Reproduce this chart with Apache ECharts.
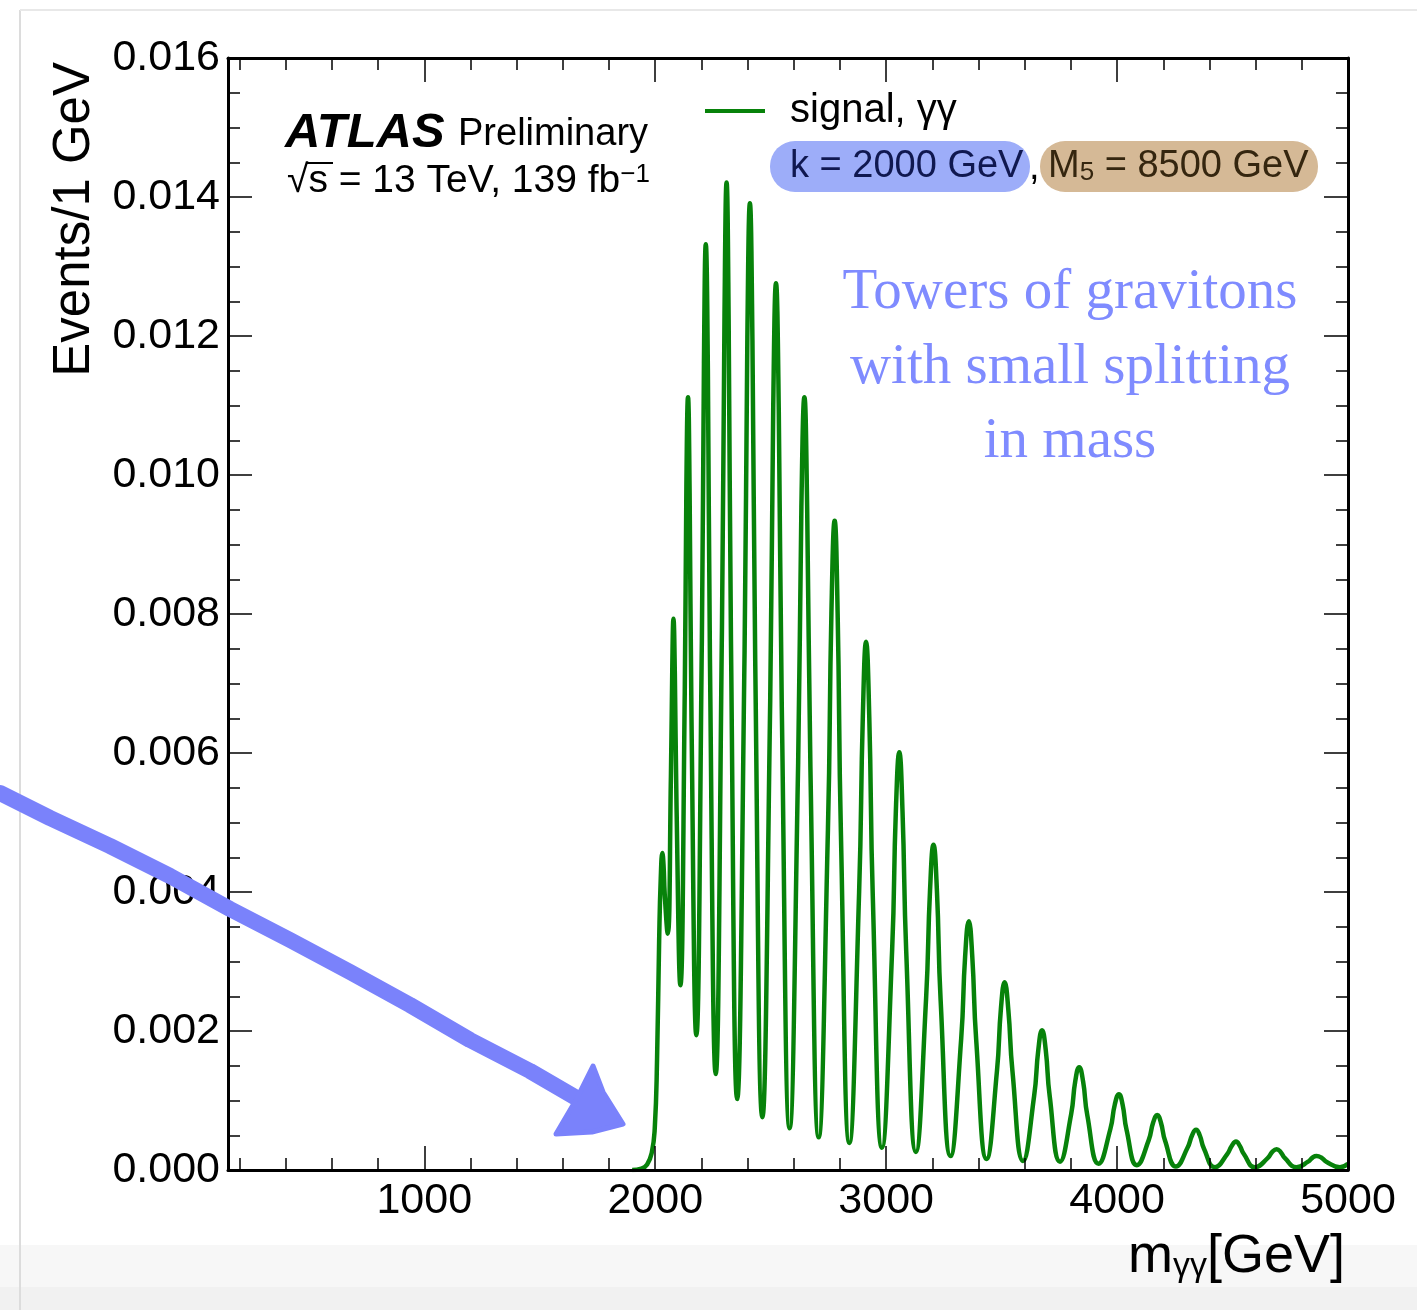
<!DOCTYPE html>
<html><head><meta charset="utf-8">
<script src="https://cdn.jsdelivr.net/npm/echarts@6/dist/echarts.min.js"></script>
<style>html,body{margin:0;padding:0;background:#fff}#c{width:1417px;height:1310px}</style>
</head><body><div id="c"></div>
<script>
// m_gammagamma [GeV] (troughs, flanks, peaks)
const massGeV = [1900,1940,1965,1985,1998,2008,2017,2024,2031,2036,2041,2054,
2068,2074,2079,2085,2092,2109,2128,2135,2142,2149,2157,2178,
2202,2211,2219,2228,2237,2262,2289,2300,2309,2318,2328,2355,
2387,2399,2410,2421,2433,2464,2498,2511,2523,2535,2548,2582,
2619,2633,2646,2658,2672,2708,2748,2763,2777,2790,2804,2841,
2883,2899,2913,2927,2942,2982,3026,3042,3057,3071,3087,3129,
3173,3190,3205,3220,3236,3279,3325,3342,3358,3373,3390,3435,
3480,3497,3513,3529,3547,3593,3641,3659,3675,3691,3708,3753,
3801,3819,3836,3853,3871,3920,3971,3990,4008,4024,4041,4086,
4137,4156,4174,4190,4208,4255,4305,4325,4342,4358,4376,4424,
4477,4497,4515,4531,4549,4597,4652,4672,4691,4708,4727,4777,
4827,4847,4864,4884,4906,4965,5000];
// Events / 1 GeV at those masses
const eventsPerGeV = [0,0.00002,0.00008,0.00025,0.0006,0.0016,0.0033,0.0042,0.00456,0.00439,0.00398,0.0034,
0.00567,0.00725,0.00793,0.00714,0.0053,0.00266,0.00689,0.00985,0.01112,0.00974,0.00653,0.00194,
0.00763,0.01161,0.01332,0.01153,0.00735,0.00138,0.0078,0.01229,0.01421,0.01223,0.00762,0.00102,
0.00747,0.01198,0.01391,0.01194,0.00734,0.00076,0.00676,0.01096,0.01276,0.01094,0.00668,0.0006,
0.00586,0.00954,0.01112,0.00952,0.0058,0.00047,0.00491,0.00801,0.00934,0.008,0.00487,0.00039,
0.004,0.00652,0.0076,0.00651,0.00396,0.00032,0.00317,0.00516,0.00601,0.00515,0.00314,0.00026,
0.00247,0.00402,0.00468,0.00401,0.00244,0.0002,0.00189,0.00307,0.00358,0.00307,0.00187,0.00016,
0.00143,0.00232,0.0027,0.00231,0.00142,0.00013,0.00107,0.00173,0.00201,0.00173,0.00107,0.00012,
0.0008,0.00128,0.00148,0.00127,0.00079,0.00009,0.00059,0.00094,0.00109,0.00094,0.00058,0.00007,
0.00043,0.00068,0.00079,0.00068,0.00042,0.00005,0.00032,0.0005,0.00058,0.0005,0.00031,0.00004,
0.00023,0.00035,0.00041,0.00035,0.00023,0.00004,0.00017,0.00026,0.0003,0.00026,0.00017,0.00004,
0.00012,0.00018,0.0002,0.00018,0.00012,0.00004,0.00009];
const xMajorTicks = [1000,2000,3000,4000,5000];
const xMinorTicks = [200,400,600,800,1200,1400,1600,1800,2200,2400,2600,2800,3200,3400,3600,3800,4200,4400,4600,4800];
const xRange = [150, 5000];
const yRange = [0, 0.016];
const yStep = 0.002;
const seriesName = 'signal, γγ';

const F = "'Liberation Sans', Arial, sans-serif";
const black = '#000';
const green = '#07820a';
const tickStyle = {color: black, width: 1.5};

function xAx(pos, ticks, len, line, labels) {
  return {
    type: 'value', min: xRange[0], max: xRange[1], position: pos, z: 5,
    axisLine: {show: line, onZero: false, lineStyle: {color: black, width: 3}},
    axisTick: {show: true, inside: true, length: len, customValues: ticks, lineStyle: tickStyle},
    axisLabel: {show: labels, customValues: ticks, formatter: v => String(v), fontSize: 43, fontFamily: F, color: black, margin: 10},
    splitLine: {show: false}
  };
}
function yAx(pos, labels) {
  return {
    type: 'value', min: yRange[0], max: yRange[1], interval: yStep, position: pos, z: 5,
    axisLine: {show: true, onZero: false, lineStyle: {color: black, width: 3}},
    axisTick: {show: true, inside: true, length: 24, lineStyle: tickStyle},
    minorTick: {show: true, splitNumber: 4, length: 12, lineStyle: tickStyle},
    axisLabel: {show: labels, formatter: v => v.toFixed(3), fontSize: 43, fontFamily: F, color: black, margin: 8},
    splitLine: {show: false}, minorSplitLine: {show: false}
  };
}

const chart = echarts.init(document.getElementById('c'), null, {renderer: 'canvas'});
chart.setOption({
  animation: false,
  backgroundColor: '#fff',
  grid: {left: 228, right: 69, top: 58, bottom: 140},
  xAxis: [xAx('bottom', xMajorTicks, 24, true, true), xAx('bottom', xMinorTicks, 12, false, false),
          xAx('top', xMajorTicks, 24, true, false), xAx('top', xMinorTicks, 12, false, false)],
  yAxis: [yAx('left', true), yAx('right', false)],
  legend: {
    data: [seriesName], left: 700, top: 86, itemWidth: 60, itemHeight: 4, icon: 'rect', selectedMode: false,
    textStyle: {fontSize: 40, fontFamily: F, color: black, padding: [0, 0, 0, 20]}
  },
  series: [{
    name: seriesName, type: 'line', xAxisIndex: 0, yAxisIndex: 0,
    data: massGeV.map((m, i) => [m, eventsPerGeV[i]]),
    smooth: 0.5, symbol: 'none', showSymbol: false,
    lineStyle: {color: green, width: 4.5}, itemStyle: {color: green}, z: 3
  }],
  graphic: {elements: [
    {type: 'rect', z: -10, shape: {x: 0, y: 1245, width: 1417, height: 65}, style: {fill: '#f7f7f7'}},
    {type: 'rect', z: -9, shape: {x: 0, y: 1287, width: 1417, height: 23}, style: {fill: '#f1f1f1'}},
    {type: 'line', z: -8, shape: {x1: 20, y1: 10, x2: 20, y2: 1310}, style: {stroke: '#dcdcdc', lineWidth: 2}},
    {type: 'line', z: -8, shape: {x1: 20, y1: 10, x2: 1417, y2: 10}, style: {stroke: '#e8e8e8', lineWidth: 2}},

    {type: 'text', z: 100, x: 75, y: 62, rotation: Math.PI / 2,
     style: {text: 'Events/1 GeV', fontSize: 51, fontFamily: F, fill: black, align: 'right', verticalAlign: 'middle'}},
    {type: 'text', z: 100, x: 1345, y: 1257,
     style: {text: '{m|m}{s|γγ}{m|[GeV]}', align: 'right', verticalAlign: 'middle', fill: black,
       rich: {m: {fontSize: 54, fontFamily: F, fill: black}, s: {fontSize: 34, fontFamily: F, fill: black, verticalAlign: 'bottom'}}}},

    {type: 'text', z: 100, x: 285, y: 133,
     style: {text: 'ATLAS', fontSize: 49, fontWeight: 'bold', fontStyle: 'italic', fontFamily: F, fill: black, verticalAlign: 'middle'}},
    {type: 'text', z: 100, x: 458, y: 135,
     style: {text: 'Preliminary', fontSize: 38, fontFamily: F, fill: black, verticalAlign: 'middle'}},
    {type: 'text', z: 100, x: 287, y: 181,
     style: {text: '√s = 13 TeV, 139 fb{sup|−1}', fontSize: 39, fontFamily: F, fill: black, verticalAlign: 'middle',
       rich: {sup: {fontSize: 26, fontFamily: F, fill: black, verticalAlign: 'top'}}}},
    {type: 'line', z: 100, shape: {x1: 306, y1: 163, x2: 333, y2: 163}, style: {stroke: black, lineWidth: 2}},

    {type: 'rect', z: 90, shape: {x: 770, y: 141, width: 260, height: 51, r: 25}, style: {fill: '#9dadf9'}},
    {type: 'text', z: 100, x: 790, y: 167,
     style: {text: 'k = 2000 GeV', fontSize: 38, fontFamily: F, fill: '#101850', verticalAlign: 'middle'}},
    {type: 'text', z: 100, x: 1029, y: 169,
     style: {text: ',', fontSize: 38, fontFamily: F, fill: black, verticalAlign: 'middle'}},
    {type: 'rect', z: 90, shape: {x: 1040, y: 141, width: 278, height: 51, r: 25}, style: {fill: '#d5b996'}},
    {type: 'text', z: 100, x: 1048, y: 167,
     style: {text: '{m|M}{s|5}{m| = 8500 GeV}', verticalAlign: 'middle', fill: '#35260f',
       rich: {m: {fontSize: 38, fontFamily: F, fill: '#35260f'}, s: {fontSize: 26, fontFamily: F, fill: '#35260f', verticalAlign: 'bottom'}}}},

    {type: 'text', z: 100, x: 1070, y: 293,
     style: {text: 'Towers of gravitons', fontSize: 57, fontFamily: "'Liberation Serif', serif", fill: '#7f8bff', align: 'center', verticalAlign: 'middle'}},
    {type: 'text', z: 100, x: 1070, y: 368,
     style: {text: 'with small splitting', fontSize: 57, fontFamily: "'Liberation Serif', serif", fill: '#7f8bff', align: 'center', verticalAlign: 'middle'}},
    {type: 'text', z: 100, x: 1070, y: 442,
     style: {text: 'in mass', fontSize: 57, fontFamily: "'Liberation Serif', serif", fill: '#7f8bff', align: 'center', verticalAlign: 'middle'}},

    {type: 'polyline', z: 110, shape: {points: [[0,793],[50,818],[110,846],[170,876],[230,909],[290,940],[350,972],[410,1005],[470,1040],[530,1071],[585,1103]]},
     style: {stroke: '#7a82fb', lineWidth: 16, lineCap: 'round', lineJoin: 'round', fill: null}},
    {type: 'polygon', z: 110, shape: {points: [[593,1066],[603,1092],[623,1124],[592,1132],[556,1134],[576,1100]]},
     style: {fill: '#7a82fb', stroke: '#7a82fb', lineWidth: 5, lineJoin: 'round'}}
  ]}
});
</script>
</body></html>
